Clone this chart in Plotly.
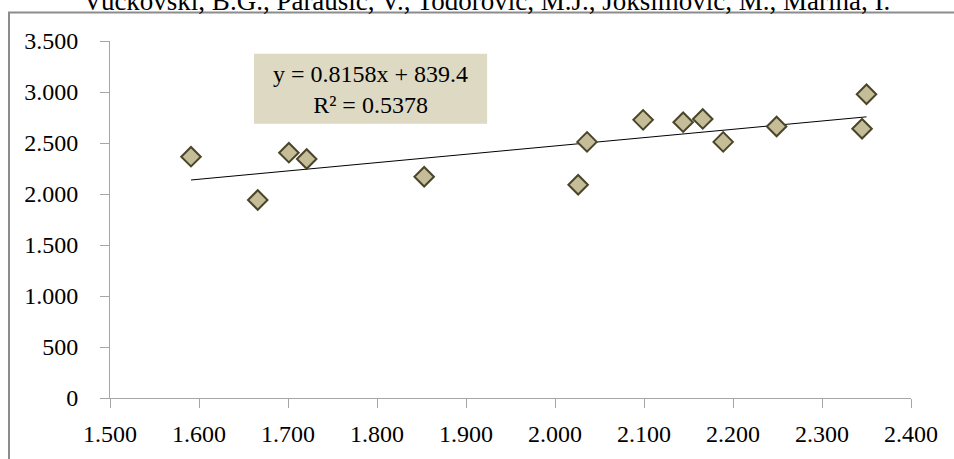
import plotly.graph_objects as go

# Data
x_vals = [1591, 1666, 1701, 1721, 1853, 2026, 2036, 2099, 2144, 2166, 2189, 2249, 2345, 2350]
y_vals = [2366, 1941, 2405, 2343, 2169, 2091, 2511, 2727, 2704, 2736, 2511, 2662, 2640, 2978]

slope = 0.8158
intercept = 839.4
r2 = 0.5378

x_ticks = [1500, 1600, 1700, 1800, 1900, 2000, 2100, 2200, 2300, 2400]
x_tick_labels = ["1.500", "1.600", "1.700", "1.800", "1.900", "2.000", "2.100", "2.200", "2.300", "2.400"]
y_ticks = [0, 500, 1000, 1500, 2000, 2500, 3000, 3500]
y_tick_labels = ["0", "500", "1.000", "1.500", "2.000", "2.500", "3.000", "3.500"]

title_text = "Vuckovski, B.G., Parausic, V., Todorovic, M.J., Joksimovic, M., Marina, I."

FONT = "Liberation Serif"

tx = [min(x_vals), max(x_vals)]
ty = [slope * v + intercept for v in tx]

fig = go.Figure()
fig.add_trace(go.Scatter(
    x=tx, y=ty, mode="lines",
    line=dict(color="#000000", width=1),
    hoverinfo="skip", showlegend=False,
))
fig.add_trace(go.Scatter(
    x=x_vals, y=y_vals, mode="markers",
    marker=dict(symbol="diamond", size=15, color="#C4BD97",
                line=dict(color="#4A452A", width=2)),
    showlegend=False,
))

axis_common = dict(
    showgrid=False, zeroline=False, showline=True, linecolor="#A6A6A6", linewidth=1,
    ticks="outside", ticklen=9, tickcolor="#A6A6A6", tickwidth=1,
    tickfont=dict(family=FONT, size=24, color="#000000"),
)

fig.update_layout(
    width=954, height=459,
    margin=dict(l=110, r=43, t=41, b=56),
    paper_bgcolor="#FFFFFF", plot_bgcolor="#FFFFFF",
    font=dict(family=FONT),
    xaxis=dict(range=[1500, 2400], tickmode="array", tickvals=x_ticks,
               ticktext=x_tick_labels, ticklabelstandoff=5, **axis_common),
    yaxis=dict(range=[0, 3500], tickmode="array", tickvals=y_ticks,
               ticktext=y_tick_labels, ticklabelstandoff=17, **axis_common),
    showlegend=False,
)

# outer frame
fig.add_shape(type="rect", xref="paper", yref="paper",
              x0=-0.1261, x1=1.2, y0=-0.4, y1=1.0801,
              line=dict(color="#8C8C8C", width=2), fillcolor="rgba(0,0,0,0)", layer="below")

# equation box
fig.add_shape(type="rect", xref="paper", yref="paper",
              x0=0.1798, x1=0.4708, y0=0.768, y1=0.964,
              line=dict(width=0), fillcolor="#DDD9C3", layer="below")

fig.add_annotation(xref="paper", yref="paper", x=0.3253, y=0.864,
                   text=f"y = {slope}x + {intercept}<br>R² = {r2}", showarrow=False,
                   xanchor="center", yanchor="middle", align="center",
                   font=dict(family=FONT, size=24, color="#000000"))

# clipped header text
fig.add_annotation(xref="paper", yref="paper", x=0.4702, y=1.112,
                   text=title_text, showarrow=False,
                   xanchor="center", yanchor="middle",
                   font=dict(family=FONT, size=27, color="#000000"))

fig.write_html("out.html", config={"displayModeBar": False},
               post_script="document.body.style.margin='0';document.body.style.padding='0';")
